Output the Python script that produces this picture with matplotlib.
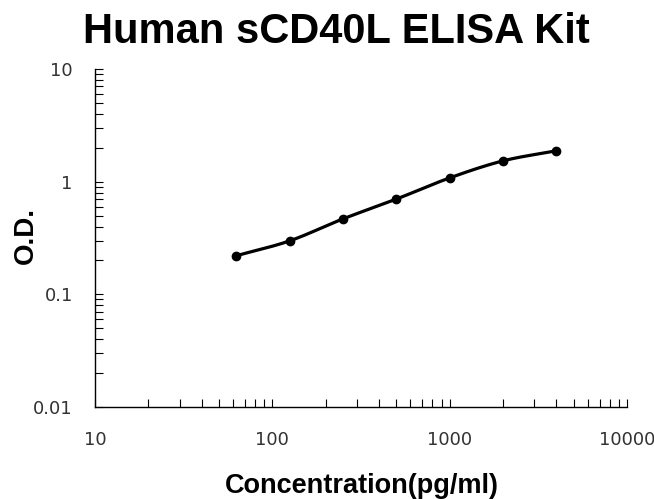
#!/usr/bin/env python3
# Standard curve: Human sCD40L ELISA Kit (log-log, smoothed line)

import numpy as np
import matplotlib
matplotlib.use("Agg")
import matplotlib.pyplot as plt
from matplotlib.ticker import LogLocator, NullFormatter, FixedLocator, FixedFormatter

# -------------------- DATA --------------------
conc = [62.5, 125, 250, 500, 1000, 2000, 4000]          # pg/ml
od = [0.22, 0.298, 0.467, 0.70, 1.08, 1.53, 1.88]
x_ticks = [10, 100, 1000, 10000]
x_tick_labels = ["10", "100", "1000", "10000"]
y_ticks = [0.01, 0.1, 1, 10]
y_tick_labels = ["0.01", "0.1", "1", "10"]
TITLE = "Human sCD40L ELISA Kit"
XLABEL = "Concentration(pg/ml)"
YLABEL = "O.D."
# ----------------------------------------------


def smooth_line(x, y, n=30):
    # Catmull-Rom through points in log space (like spreadsheet "smoothed line")
    lx, ly = np.log10(x), np.log10(y)
    px = np.concatenate([[2 * lx[0] - lx[1]], lx, [2 * lx[-1] - lx[-2]]])
    py = np.concatenate([[2 * ly[0] - ly[1]], ly, [2 * ly[-1] - ly[-2]]])
    sx, sy = [], []
    t = np.linspace(0, 1, n)
    for i in range(1, len(px) - 2):
        for arr, out in ((px, sx), (py, sy)):
            p0, p1, p2, p3 = arr[i - 1], arr[i], arr[i + 1], arr[i + 2]
            out.extend(0.5 * ((2 * p1) + (-p0 + p2) * t
                              + (2 * p0 - 5 * p1 + 4 * p2 - p3) * t ** 2
                              + (-p0 + 3 * p1 - 3 * p2 + p3) * t ** 3))
    return 10 ** np.array(sx), 10 ** np.array(sy)


fig = plt.figure(figsize=(6.54, 4.99), dpi=100)
ax = fig.add_axes([95 / 654, 1 - 407 / 499, 532 / 654, 338 / 499])

sx, sy = smooth_line(conc, od)
ax.plot(sx, sy, color="black", lw=2.3, solid_capstyle="round")
ax.plot(conc, od, "o", color="black", ms=6)

ax.set_xscale("log")
ax.set_yscale("log")
ax.set_xlim(10, 10000)
ax.set_ylim(0.01, 10)

ax.xaxis.set_major_locator(FixedLocator(x_ticks))
ax.xaxis.set_major_formatter(FixedFormatter(x_tick_labels))
ax.yaxis.set_major_locator(FixedLocator(y_ticks))
ax.yaxis.set_major_formatter(FixedFormatter(y_tick_labels))
ax.xaxis.set_minor_locator(LogLocator(base=10, subs=np.arange(2, 10), numticks=20))
ax.yaxis.set_minor_locator(LogLocator(base=10, subs=np.arange(2, 10), numticks=20))
ax.xaxis.set_minor_formatter(NullFormatter())
ax.yaxis.set_minor_formatter(NullFormatter())

for side in ("top", "right"):
    ax.spines[side].set_visible(False)
for side in ("left", "bottom"):
    ax.spines[side].set_linewidth(1.0)

ax.tick_params(which="both", direction="in", length=6, width=0.8, color="black")
ax.tick_params(axis="x", which="major", pad=17, labelsize=13, labelcolor="#333333")
ax.tick_params(axis="y", which="major", pad=16, labelsize=13, labelcolor="#333333")

fig.text(336 / 654, 1 - 43 / 499, TITLE, ha="center", va="baseline",
         fontsize=30, fontweight="bold", family="Liberation Sans")
fig.text(362 / 654, 1 - 493 / 499, XLABEL, ha="center", va="baseline",
         fontsize=19.5, fontweight="bold", family="Liberation Sans")
fig.text(26 / 654, 1 - 236 / 499, YLABEL, ha="center", va="center", rotation=90,
         fontsize=20, fontweight="bold", family="Liberation Sans")

fig.savefig("out.png", dpi=100)
